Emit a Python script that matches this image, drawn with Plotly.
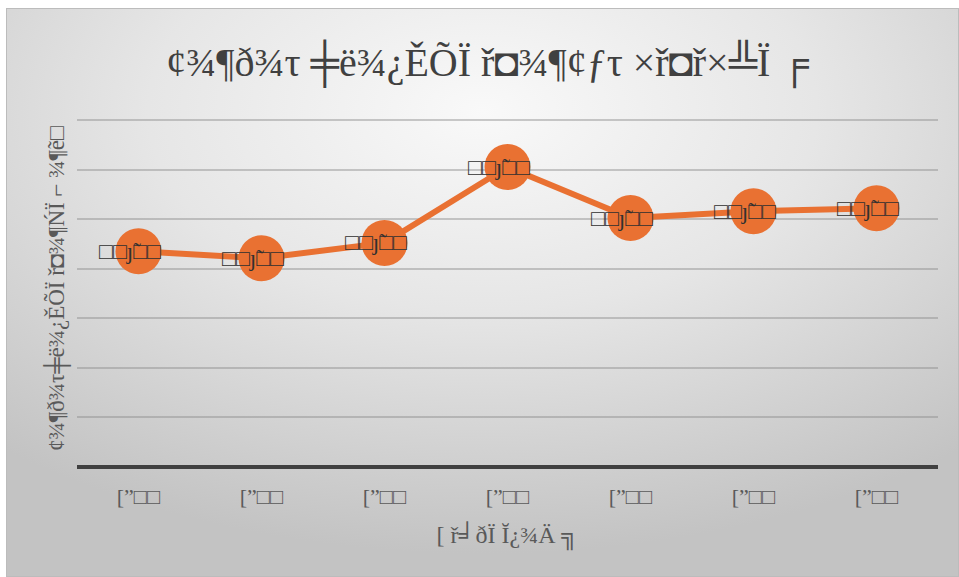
import base64
import plotly.graph_objects as go

# Chart text (as stored in the source workbook)
title_text = "¢¾¶ð¾τ ╪ë¾¿ĚÕÏ ř◘¾¶¢ƒτ ×ř◘ř×╩Ï ╒"
y_title = "¢¾¶ð¾τ╪ë¾¿ĚÕÏ ř◘¾¶ŃÏ ⌐ ¾¶ẽ□"
x_title = "[ ř╛ðÏ Ĭ¿¾Ä ╗"
categories = ["[”□□", "[”□□", "[”□□", "[”□□", "[”□□", "[”□□", "[”□□"]
values = [4.35, 4.21, 4.52, 6.05, 5.02, 5.16, 5.22]
point_labels = ["□□ȷ̃□□"] * 7

ORANGE = "#E97132"
W, H = 959, 577
ML, MR, MT, MB = 77, 21, 110, 110
PW, PH = W - ML - MR, H - MT - MB

positions = list(range(len(categories)))

fig = go.Figure()
fig.add_trace(go.Scatter(
    x=positions, y=values, mode="lines+markers",
    line=dict(color=ORANGE, width=6),
    marker=dict(color=ORANGE, size=46),
    hoverinfo="skip", showlegend=False,
))

# point labels sit on the markers, nudged left
for xi, yi, lab in zip(positions, values, point_labels):
    fig.add_annotation(x=xi, y=yi, text=lab, showarrow=False, xshift=-9,
                       font=dict(family="Liberation Serif", size=23, color="#303030"))

# radial-gradient chart background with a thin frame
fx0, fy0, fx1, fy1 = 6, 8, 959, 577
fw, fh = fx1 - fx0, fy1 - fy0
svg = (
    f'<svg xmlns="http://www.w3.org/2000/svg" width="{fw}" height="{fh}" '
    f'viewBox="0 0 {fw} {fh}" preserveAspectRatio="none">'
    '<defs><radialGradient id="g" cx="0.5" cy="0.18" r="0.78">'
    '<stop offset="0" stop-color="#f9f9f9"/>'
    '<stop offset="0.45" stop-color="#e6e6e6"/>'
    '<stop offset="1" stop-color="#c3c3c3"/>'
    '</radialGradient></defs>'
    f'<rect x="0.5" y="0.5" width="{fw - 1}" height="{fh - 1}" fill="url(#g)" stroke="#bcbcbc" stroke-width="1"/>'
    '</svg>'
)
src = "data:image/svg+xml;base64," + base64.b64encode(svg.encode("utf-8")).decode("ascii")
fig.add_layout_image(
    source=src, xref="paper", yref="paper",
    x=(fx0 - ML) / PW, y=(H - MB - fy0) / PH,
    sizex=fw / PW, sizey=fh / PH,
    xanchor="left", yanchor="top", sizing="stretch", layer="below",
)

fig.update_layout(
    width=W, height=H,
    margin=dict(l=ML, r=MR, t=MT, b=MB),
    paper_bgcolor="white", plot_bgcolor="rgba(0,0,0,0)",
    title=dict(text=title_text, x=0.5 - 20 / PW, xref="paper", xanchor="center",
               y=(H - 62) / H, yanchor="middle", yref="container",
               font=dict(family="Liberation Serif", size=40, color="#404040")),
    xaxis=dict(
        range=[-0.5, len(categories) - 0.5],
        tickvals=positions, ticktext=categories,
        showgrid=False, zeroline=False, showline=False, ticks="",
        ticklabelstandoff=14,
        tickfont=dict(family="Liberation Serif", size=22, color="#595959"),
        title=dict(text=x_title, standoff=18,
                   font=dict(family="Liberation Serif", size=24, color="#595959")),
    ),
    yaxis=dict(
        range=[0, 7.2], dtick=1, showticklabels=False,
        showgrid=True, gridcolor="rgba(140,140,140,0.45)", gridwidth=2,
        zeroline=True, zerolinecolor="#404040", zerolinewidth=4,
        showline=False, ticks="",
        title=dict(text=y_title, standoff=4,
                   font=dict(family="Liberation Serif", size=23, color="#595959")),
    ),
)

fig.write_html("out.html")
